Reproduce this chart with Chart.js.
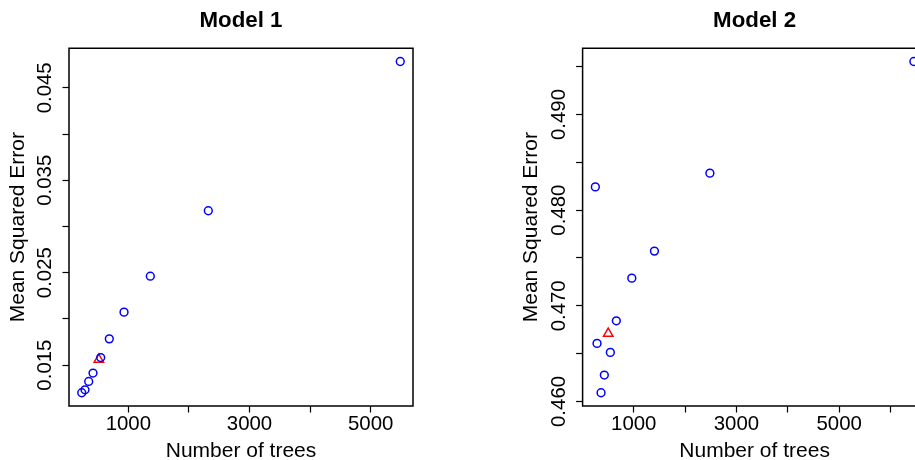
<!DOCTYPE html>
<html>
<head>
<meta charset="utf-8">
<script src="https://cdn.jsdelivr.net/npm/chart.js@4"></script>
<style>
  html, body { margin: 0; padding: 0; background: #fff; overflow: hidden; }
  body { width: 915px; height: 460px; position: relative; }
  #c1 { position: absolute; left: 0; top: 0; }
  #c2 { position: absolute; left: 457px; top: 0; }
</style>
</head>
<body>
<canvas id="c1" width="457" height="460"></canvas>
<canvas id="c2" width="500" height="460"></canvas>
<script>
// Model 1: error vs number of trees
const trees1 = [231, 285, 346, 417, 544, 686, 929, 1363, 2320, 5488];
const mse1 = [0.01201, 0.01233, 0.01323, 0.01414, 0.01582, 0.01784, 0.02073, 0.02462, 0.03170, 0.04785];
const bestTrees1 = [513];
const bestMse1 = [0.01561];
const xTicks1 = [1000, 2000, 3000, 4000, 5000];
const xTickLabels1 = ['1000', '', '3000', '', '5000'];
const yTicks1 = [0.015, 0.020, 0.025, 0.030, 0.035, 0.040, 0.045];
const yTickLabels1 = ['0.015', '', '0.025', '', '0.035', '', '0.045'];

// Model 2
const trees2 = [252, 285, 363, 427, 544, 661, 962, 1403, 2483, 6455];
const mse2 = [0.48243, 0.46607, 0.46091, 0.46276, 0.46513, 0.46843, 0.47289, 0.47572, 0.48387, 0.49554];
const bestTrees2 = [503];
const bestMse2 = [0.46711];
const xTicks2 = [1000, 2000, 3000, 4000, 5000, 6000];
const xTickLabels2 = ['1000', '', '3000', '', '5000', ''];
const yTicks2 = [0.460, 0.465, 0.470, 0.475, 0.480, 0.485, 0.490, 0.495];
const yTickLabels2 = ['0.460', '', '0.470', '', '0.480', '', '0.490', ''];

const family = "'Liberation Sans', Arial, Helvetica, sans-serif";

// R style axis limits: data range plus 4% each side
const rRange = (vals) => {
  const lo = Math.min(...vals), hi = Math.max(...vals);
  const d = (hi - lo) * 0.04;
  return [lo - d, hi + d];
};

// box around the plot region
const frame = {
  id: 'frame',
  afterDraw(chart) {
    const {ctx, chartArea: a} = chart;
    ctx.save();
    ctx.strokeStyle = '#000';
    ctx.lineWidth = 1.5;
    ctx.strokeRect(a.left, a.top, a.right - a.left, a.bottom - a.top);
    ctx.restore();
  }
};

const makeChart = (id, cfg) => {
  const [xMin, xMax] = rRange(cfg.x);
  const [yMin, yMax] = rRange(cfg.y);
  return new Chart(document.getElementById(id), {
    type: 'scatter',
    data: {
      datasets: [{
        data: cfg.x.map((x, i) => ({x: x, y: cfg.y[i]})),
        pointStyle: 'circle',
        pointRadius: 3.9,
        pointHoverRadius: 3.9,
        borderWidth: 1.5,
        borderColor: '#0000ff',
        backgroundColor: 'rgba(0,0,0,0)',
      }, {
        data: cfg.bx.map((x, i) => ({x: x, y: cfg.by[i]})),
        pointStyle: 'triangle',
        pointRadius: 5.4,
        pointHoverRadius: 5.4,
        borderWidth: 1.5,
        borderColor: '#ff0000',
        backgroundColor: 'rgba(0,0,0,0)',
      }],
    },
    options: {
      responsive: false,
      animation: false,
      events: [],
      layout: { padding: { left: cfg.padLeft, right: cfg.padRight, top: 0, bottom: 0 } },
      plugins: {
        legend: { display: false },
        tooltip: { enabled: false },
        title: {
          display: true,
          text: cfg.title,
          fullSize: false,
          color: '#000',
          font: { family: family, size: 22.3, weight: 'bold', lineHeight: 1.2 },
          padding: { top: 7, bottom: 14.5 },
        },
      },
      scales: {
        x: {
          type: 'linear',
          min: xMin,
          max: xMax,
          afterBuildTicks: (s) => { s.ticks = cfg.xTicks.map(v => ({value: v})); },
          afterFit: (s) => { s.height = 54; },
          ticks: {
            autoSkip: false, minRotation: 0, maxRotation: 0, padding: 0,
            color: '#000',
            font: { family: family, size: 20.4 },
            callback: (v, i) => cfg.xLabels[i],
          },
          grid: { drawOnChartArea: false, drawTicks: true, tickLength: 6.5, tickColor: '#000', tickWidth: 1.2 },
          border: { display: false },
          title: {
            display: true, text: 'Number of trees', color: '#000',
            font: { family: family, size: 21, lineHeight: 1 },
            padding: { top: 0, bottom: -2 },
          },
        },
        y: {
          type: 'linear',
          min: yMin,
          max: yMax,
          afterBuildTicks: (s) => { s.ticks = cfg.yTicks.map(v => ({value: v})); },
          afterFit: (s) => { s.width = 69; },
          ticks: {
            autoSkip: false, minRotation: 90, maxRotation: 90, crossAlign: 'center', padding: -8.7,
            color: '#000',
            font: { family: family, size: 20.4 },
            callback: (v, i) => cfg.yLabels[i],
          },
          grid: { drawOnChartArea: false, drawTicks: true, tickLength: 6.5, tickColor: '#000', tickWidth: 1.2 },
          border: { display: false },
          title: {
            display: true, text: 'Mean Squared Error', color: '#000',
            font: { family: family, size: 21, lineHeight: 1 },
            padding: { top: 7.5, bottom: 0 },
          },
        },
      },
    },
    plugins: [frame],
  });
};

makeChart('c1', {
  title: 'Model 1', x: trees1, y: mse1, bx: bestTrees1, by: bestMse1,
  xTicks: xTicks1, xLabels: xTickLabels1, yTicks: yTicks1, yLabels: yTickLabels1,
  padLeft: 0, padRight: 44,
});

makeChart('c2', {
  title: 'Model 2', x: trees2, y: mse2, bx: bestTrees2, by: bestMse2,
  xTicks: xTicks2, xLabels: xTickLabels2, yTicks: yTicks2, yLabels: yTickLabels2,
  padLeft: 56.6, padRight: 30.4,
});
</script>
</body>
</html>
